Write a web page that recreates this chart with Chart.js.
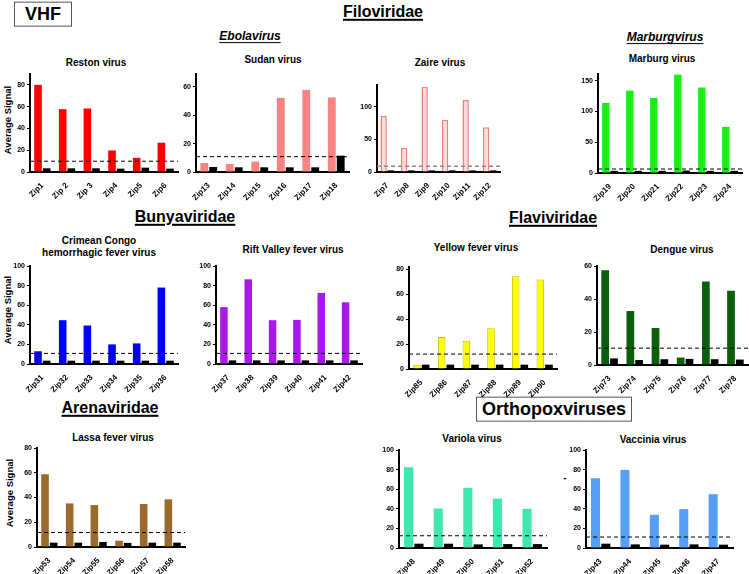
<!DOCTYPE html>
<html>
<head>
<meta charset="utf-8">
<script src="https://cdn.jsdelivr.net/npm/chart.js@4"></script>
<style>
  html, body { margin: 0; padding: 0; background: #fff; }
  body { width: 749px; height: 574px; position: relative; overflow: hidden;
         font-family: "Liberation Sans", Arial, sans-serif; color: #000; }
  .txt { position: absolute; transform: translate(-50%, -50%); white-space: nowrap;
         font-weight: bold; line-height: 1.15; text-align: center; }
  .family { font-size: 16px; text-decoration: underline; text-decoration-thickness: 1.5px; text-underline-offset: 2px; }
  .genus { font-size: 12px; font-style: italic; text-decoration: underline; text-underline-offset: 2px; }
  .ptitle { font-size: 10px; }
  .ylab { font-size: 9.5px; transform: translate(-50%, -50%) rotate(-90deg); }
  .boxed { border: 1.5px solid #555; padding: 1px 6px; }
  canvas { position: absolute; }
</style>
</head>
<body>
<div class="txt boxed" style="left:43px;top:14px;font-size:18px;width:44px;">VHF</div>
<div class="txt family" style="left:383px;top:12px;">Filoviridae</div>
<div class="txt genus" style="left:250px;top:37px;">Ebolavirus</div>
<div class="txt genus" style="left:665px;top:38px;">Marburgvirus</div>
<div class="txt family" style="left:185px;top:217px;">Bunyaviridae</div>
<div class="txt family" style="left:553px;top:218px;">Flaviviridae</div>
<div class="txt family" style="left:110px;top:408px;">Arenaviridae</div>
<div class="txt boxed" style="left:554px;top:409px;font-size:18px;padding:1px 5px;">Orthopoxviruses</div>

<div class="txt ptitle" style="left:96px;top:63px;">Reston virus</div>
<div class="txt ptitle" style="left:273px;top:60px;">Sudan virus</div>
<div class="txt ptitle" style="left:440px;top:63px;">Zaire virus</div>
<div class="txt ptitle" style="left:662px;top:59px;">Marburg virus</div>
<div class="txt ptitle" style="left:99px;top:246px;">Crimean Congo<br>hemorrhagic fever virus</div>
<div class="txt ptitle" style="left:293px;top:250px;">Rift Valley fever virus</div>
<div class="txt ptitle" style="left:476px;top:248px;">Yellow fever virus</div>
<div class="txt ptitle" style="left:682px;top:250px;">Dengue virus</div>
<div class="txt ptitle" style="left:113px;top:438px;">Lassa fever virus</div>
<div class="txt ptitle" style="left:472px;top:439px;">Variola virus</div>
<div class="txt ptitle" style="left:653px;top:440px;">Vaccinia virus</div>
<div class="txt" style="left:565px;top:478px;font-size:10px;">-</div>

<div class="txt ylab" style="left:8px;top:120px;">Average Signal</div>
<div class="txt ylab" style="left:8px;top:310px;">Average Signal</div>
<div class="txt ylab" style="left:10px;top:493px;">Average Signal</div>

<script>
// values (average signal per capture probe, virus vs. control)
const restonLabels = ["Zip1", "Zip 2", "Zip 3", "Zip4", "Zip5", "Zip6"];
const restonSignal = [80, 57.7, 58.3, 19.8, 13, 26.9];
const restonControl = [3.4, 3.4, 3.4, 3.1, 4, 3.1];

const sudanLabels = ["Zip13", "Zip14", "Zip15", "Zip16", "Zip17", "Zip18"];
const sudanSignal = [6.3, 5.6, 7.3, 52.2, 57.8, 52.5];
const sudanControl = [3.5, 3.3, 3.3, 3.3, 3.3, 11.5];

const zaireLabels = ["Zip7", "Zip8", "Zip9", "Zip10", "Zip11", "Zip12"];
const zaireSignal = [85.8, 37, 130.5, 79.7, 110, 68.5];
const zaireControl = [2.5, 2.5, 2.5, 2.5, 2.5, 2.5];

const marburgLabels = ["Zip19", "Zip20", "Zip21", "Zip22", "Zip23", "Zip24"];
const marburgSignal = [114, 134, 122, 160, 139, 75];
const marburgControl = [3.5, 3.5, 3.5, 4, 3.5, 3.5];

const cchfLabels = ["Zip31", "Zip32", "Zip33", "Zip34", "Zip35", "Zip36"];
const cchfSignal = [13, 44.7, 39.3, 20, 21, 78];
const cchfControl = [3.4, 3.4, 3.4, 3.4, 3.4, 3.4];

const riftLabels = ["Zip37", "Zip38", "Zip39", "Zip40", "Zip41", "Zip42"];
const riftSignal = [58, 86.4, 44.7, 45, 72.5, 63];
const riftControl = [3.7, 3.7, 3.7, 3.7, 3.7, 3.7];

const yellowLabels = ["Zip85", "Zip86", "Zip87", "Zip88", "Zip89", "Zip90"];
const yellowSignal = [3.5, 25.8, 22.8, 32.8, 74.6, 72];
const yellowControl = [3.5, 3.5, 3.5, 3.5, 3.5, 3.5];

const dengueLabels = ["Zip73", "Zip74", "Zip75", "Zip76", "Zip77", "Zip78"];
const dengueSignal = [57.5, 32.7, 22.4, 4.5, 50.6, 45];
const dengueControl = [4, 3, 3.5, 3.7, 3.5, 3.3];

const lassaLabels = ["Zip53", "Zip54", "Zip55", "Zip56", "Zip57", "Zip58"];
const lassaSignal = [58.8, 35.2, 33.9, 5.1, 34.7, 38.5];
const lassaControl = [3.5, 3.5, 4, 3.3, 3.5, 3.5];

const variolaLabels = ["Zip48", "Zip49", "Zip50", "Zip51", "Zip52"];
const variolaSignal = [82.4, 40.3, 61.4, 50.5, 40];
const variolaControl = [4.4, 4.4, 3.7, 4, 4];

const vacciniaLabels = ["Zip43", "Zip44", "Zip45", "Zip46", "Zip47"];
const vacciniaSignal = [71.2, 79.7, 33.9, 39.7, 54.9];
const vacciniaControl = [4.4, 3.7, 3.4, 3.7, 3.4];

// cutoff (dashed line) per panel, in panel order
const cutoffs = [9.9, 10.8, 8.8, 6.5, 10.8, 10.8, 12, 10.2, 11.7, 12.5, 11.2];

const FONT = "'Liberation Sans', Arial, Helvetica, sans-serif";
const Y_W = 26, X_H = 30, TOP_PAD = 6, RIGHT_PAD = 4;

// x0/x1: y axis and end of x axis, top/bottom: axis top and zero line
const panels = [
  { labels: restonLabels, signal: restonSignal, control: restonControl, color: "#ff0000", x0: 30, x1: 178, top: 74, bottom: 172, max: 90, step: 20 },
  { labels: sudanLabels, signal: sudanSignal, control: sudanControl, color: "#f98282", x0: 196, x1: 349, top: 74, bottom: 172, max: 69, step: 20 },
  { labels: zaireLabels, signal: zaireSignal, control: zaireControl, color: "#ffd8d8", border: "#ee8080", borderWidth: 1.5, dash: "#8a8a8a", dashWidth: 1.5, x0: 377, x1: 500, top: 85, bottom: 172, max: 133, step: 50 },
  { labels: marburgLabels, signal: marburgSignal, control: marburgControl, color: "#14f014", x0: 598, x1: 742, top: 74, bottom: 173, max: 161, step: 50 },
  { labels: cchfLabels, signal: cchfSignal, control: cchfControl, color: "#0000ff", x0: 30, x1: 178, top: 266, bottom: 364, max: 100, step: 20 },
  { labels: riftLabels, signal: riftSignal, control: riftControl, color: "#aa18e8", x0: 216, x1: 362, top: 266, bottom: 364, max: 100, step: 20 },
  { labels: yellowLabels, signal: yellowSignal, control: yellowControl, color: "#ffff00", border: "#c4c000", borderWidth: 1, x0: 409, x1: 557, top: 267, bottom: 369, max: 82, step: 20 },
  { labels: dengueLabels, signal: dengueSignal, control: dengueControl, color: "#0b5e0b", x0: 597, x1: 748, top: 266, bottom: 365, max: 60, step: 20 },
  { labels: lassaLabels, signal: lassaSignal, control: lassaControl, color: "#9b692c", x0: 37, x1: 185, top: 448, bottom: 547, max: 80, step: 20 },
  { labels: variolaLabels, signal: variolaSignal, control: variolaControl, color: "#40e8b0", x0: 399, x1: 547, top: 450, bottom: 548, max: 100, step: 20 },
  { labels: vacciniaLabels, signal: vacciniaSignal, control: vacciniaControl, color: "#55a0f5", x0: 586, x1: 733, top: 450, bottom: 548, max: 100, step: 20 },
];

const cutoffLine = {
  id: "cutoffLine",
  afterDatasetsDraw(chart, args, opts) {
    const { ctx, chartArea } = chart;
    const y = chart.scales.y.getPixelForValue(opts.value);
    ctx.save();
    ctx.strokeStyle = opts.color;
    ctx.lineWidth = opts.width;
    ctx.setLineDash([4, 3]);
    ctx.beginPath();
    ctx.moveTo(chartArea.left, y);
    ctx.lineTo(chartArea.right, y);
    ctx.stroke();
    ctx.restore();
  },
};

panels.forEach((p, i) => {
  const canvas = document.createElement("canvas");
  const w = p.x1 - p.x0 + Y_W + RIGHT_PAD;
  const h = p.bottom - p.top + TOP_PAD + X_H;
  canvas.width = w;
  canvas.height = h;
  canvas.style.left = p.x0 - Y_W + "px";
  canvas.style.top = p.top - TOP_PAD + "px";
  canvas.style.width = w + "px";
  canvas.style.height = h + "px";
  document.body.appendChild(canvas);

  new Chart(canvas, {
    type: "bar",
    data: {
      labels: p.labels,
      datasets: [
        {
          data: p.signal,
          backgroundColor: p.color,
          borderColor: p.border || p.color,
          borderWidth: p.borderWidth || 0,
        },
        {
          data: p.control,
          backgroundColor: "#000",
          borderWidth: 0,
        },
      ],
    },
    options: {
      responsive: false,
      animation: false,
      events: [],
      layout: { padding: { top: TOP_PAD, right: RIGHT_PAD, left: 0, bottom: 0 } },
      categoryPercentage: 0.7,
      barPercentage: 0.88,
      plugins: {
        legend: { display: false },
        tooltip: { enabled: false },
        cutoffLine: { value: cutoffs[i], color: p.dash || "#000", width: p.dashWidth || 1 },
      },
      scales: {
        x: {
          grid: { display: false },
          border: { display: true, color: "#000", width: 2 },
          ticks: {
            color: "#000",
            font: { family: FONT, size: 8, weight: "bold" },
            minRotation: 45,
            maxRotation: 45,
            autoSkip: false,
            padding: 1,
          },
          afterFit: (scale) => {
            scale.height = X_H;
            scale.paddingLeft = 0;
            scale.paddingRight = 0;
          },
        },
        y: {
          min: 0,
          max: p.max,
          grid: { display: true, drawOnChartArea: false, drawTicks: true, tickLength: 3, color: "#000", lineWidth: 1 },
          border: { display: true, color: "#000", width: 2 },
          ticks: {
            stepSize: p.step,
            includeBounds: false,
            color: "#000",
            font: { family: FONT, size: 7, weight: "bold" },
            padding: 2,
          },
          afterFit: (scale) => {
            scale.width = Y_W;
            scale.paddingTop = 0;
            scale.paddingBottom = 0;
          },
        },
      },
    },
    plugins: [cutoffLine],
  });
});
</script>
</body>
</html>
